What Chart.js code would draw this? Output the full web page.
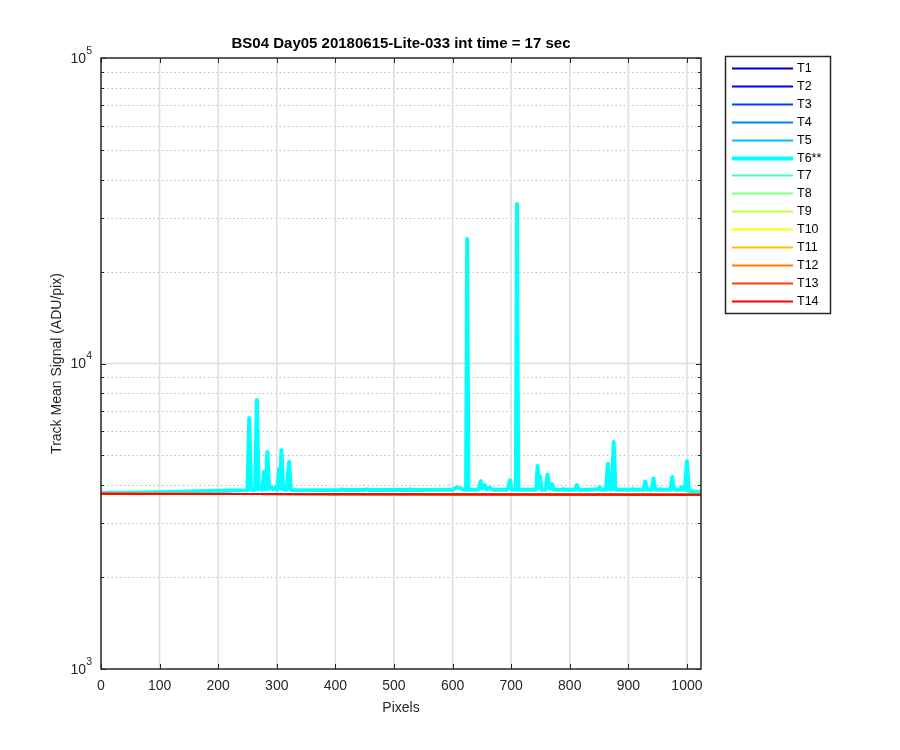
<!DOCTYPE html>
<html><head><meta charset="utf-8">
<script src="https://cdn.jsdelivr.net/npm/chart.js@4.4.0/dist/chart.umd.min.js"></script>
<style>html,body{margin:0;padding:0;background:#fff;}canvas{display:block;}</style>
</head><body>
<canvas id="c" width="900" height="750"></canvas>
<script>
// ---- data ----
const chartTitle = 'BS04 Day05 20180615-Lite-033 int time = 17 sec';
const xAxisLabel = 'Pixels';
const yAxisLabel = 'Track Mean Signal (ADU/pix)';
const trackLabels = ['T1','T2','T3','T4','T5','T6**','T7','T8','T9','T10','T11','T12','T13','T14'];
const xTickValues = [0,100,200,300,400,500,600,700,800,900,1000];
const xTickLabels = ['0','100','200','300','400','500','600','700','800','900','1000'];
const yMajorTickValues = [1000,10000,100000];
const yTickBases = ['10','10','10'];
const yTickExponents = ['3','4','5'];
const yMinorTickValues = [2000,3000,4000,5000,6000,7000,8000,9000,20000,30000,40000,50000,60000,70000,80000,90000];

// T6 (highlighted track) pixel positions and signal
const t6X = [1,50,100,150,200,246,250,253,256,260,263,266,269,272,275,278,281,284,287,291,294,298,301,304,306,308,311,317,321,324,330,
  408,411,414,451,454,457,524,527,530,600,604,608,612,616,620,623,625,627,640,645,648,651,655,658,664,668,692,695,698,701,
  708,710,712,740,743,745,747,749,752,759,762,765,767,770,773,786,789,792,809,812,815,840,843,846,849,851,854,862,865,868,
  872,875,878,905,908,911,926,929,932,940,943,946,952,955,958,972,975,978,988,991,994,997,1000,1003,1012,1024];
const t6Y = [3770,3775,3790,3810,3830,3845,3850,6630,3860,3850,3860,7590,3870,3950,3860,4420,3870,5130,3880,3940,3870,3940,3860,4520,3900,5200,3870,3860,4760,3855,3850,
  3855,3875,3855,3855,3875,3855,3855,3870,3855,3860,3900,3930,3910,3880,3860,3860,25560,3860,3860,3875,4120,3890,4000,3870,3920,3860,3860,3900,4150,3870,
  3860,33270,3860,3860,3870,4620,3920,4280,3860,3860,4320,3900,3880,4030,3860,3860,3880,3860,3860,4000,3860,3860,3880,3870,3880,3940,3860,3860,4700,3870,
  3870,5530,3860,3860,3880,3860,3860,4110,3860,3860,4200,3860,3860,3880,3860,3860,4250,3860,3860,3940,3860,3860,4790,3830,3810,3800];

// all other tracks sit on the common baseline
const otherX = [0,500,1024];
const otherY = [3745,3735,3720];

// ---- styles ----
const trackColors = ['rgb(0,0,191)','rgb(0,0,255)','rgb(0,64,255)','rgb(0,128,255)','rgb(0,191,255)','rgb(0,255,255)',
  'rgb(64,255,191)','rgb(128,255,128)','rgb(191,255,64)','rgb(255,255,0)','rgb(255,191,0)','rgb(255,128,0)','rgb(255,64,0)','rgb(255,0,0)'];
const HIGHLIGHT = 5;
const FONT = "'Liberation Sans', Arial, sans-serif";
const AXIS_COLOR = '#262626';

const datasets = trackLabels.map((lab, i) => {
  const xs = i === HIGHLIGHT ? t6X : otherX;
  const ys = i === HIGHLIGHT ? t6Y : otherY;
  return {
    label: lab,
    data: xs.map((x, k) => ({x: x, y: ys[k]})),
    borderColor: trackColors[i],
    backgroundColor: trackColors[i],
    borderWidth: i === HIGHLIGHT ? 4 : 2,
    pointRadius: 0,
    tension: 0,
    fill: false,
    borderJoinStyle: 'round',
    borderCapStyle: 'round',
    order: trackLabels.length - i
  };
});

const matlabAxes = {
  id: 'matlabAxes',
  beforeDatasetsDraw(chart) {
    const ctx = chart.ctx, a = chart.chartArea;
    const xs = chart.scales.x, ys = chart.scales.y;
    ctx.save();
    // minor dotted horizontal grid
    ctx.strokeStyle = '#bcbcbc';
    ctx.lineWidth = 1.2;
    ctx.setLineDash([1.5, 2.7]);
    yMinorTickValues.forEach(v => {
      const y = Math.round(ys.getPixelForValue(v)) + 0.5;
      ctx.beginPath(); ctx.moveTo(a.left + 2, y); ctx.lineTo(a.right, y); ctx.stroke();
    });
    ctx.setLineDash([]);
    // major grid
    ctx.strokeStyle = '#dedede';
    ctx.lineWidth = 1.5;
    xTickValues.forEach(v => {
      const x = xs.getPixelForValue(v);
      if (x <= a.left + 1 || x >= a.right - 1) return;
      ctx.beginPath(); ctx.moveTo(x, a.top); ctx.lineTo(x, a.bottom); ctx.stroke();
    });
    yMajorTickValues.forEach(v => {
      const y = ys.getPixelForValue(v);
      if (y <= a.top + 1 || y >= a.bottom - 1) return;
      ctx.beginPath(); ctx.moveTo(a.left, y); ctx.lineTo(a.right, y); ctx.stroke();
    });
    ctx.restore();
  },
  afterDatasetsDraw(chart) {
    const ctx = chart.ctx, a = chart.chartArea;
    const xs = chart.scales.x, ys = chart.scales.y;
    ctx.save();
    // ticks (inward, all sides)
    ctx.strokeStyle = AXIS_COLOR;
    ctx.lineWidth = 1;
    xTickValues.forEach(v => {
      const x = Math.round(xs.getPixelForValue(v)) + 0.5;
      ctx.beginPath();
      ctx.moveTo(x, a.bottom); ctx.lineTo(x, a.bottom - 5);
      ctx.moveTo(x, a.top); ctx.lineTo(x, a.top + 5);
      ctx.stroke();
    });
    yMajorTickValues.forEach(v => {
      const y = Math.round(ys.getPixelForValue(v)) + 0.5;
      ctx.beginPath();
      ctx.moveTo(a.left, y); ctx.lineTo(a.left + 5, y);
      ctx.moveTo(a.right, y); ctx.lineTo(a.right - 5, y);
      ctx.stroke();
    });
    yMinorTickValues.forEach(v => {
      const y = Math.round(ys.getPixelForValue(v)) + 0.5;
      ctx.beginPath();
      ctx.moveTo(a.left, y); ctx.lineTo(a.left + 3, y);
      ctx.moveTo(a.right, y); ctx.lineTo(a.right - 3, y);
      ctx.stroke();
    });
    // box
    ctx.lineWidth = 1.5;
    ctx.strokeRect(a.left, a.top, a.right - a.left, a.bottom - a.top);

    // x tick labels
    ctx.fillStyle = AXIS_COLOR;
    ctx.font = '14px ' + FONT;
    ctx.textAlign = 'center';
    ctx.textBaseline = 'middle';
    xTickValues.forEach((v, i) => {
      ctx.fillText(xTickLabels[i], xs.getPixelForValue(v), a.bottom + 17);
    });
    // y tick labels 10^n
    yMajorTickValues.forEach((v, i) => {
      const y = ys.getPixelForValue(v);
      ctx.font = '10.5px ' + FONT;
      ctx.textAlign = 'left';
      const ew = ctx.measureText(yTickExponents[i]).width;
      const right = a.left - 9;
      ctx.fillText(yTickExponents[i], right - ew, y - 7);
      ctx.font = '14px ' + FONT;
      ctx.textAlign = 'right';
      ctx.fillText(yTickBases[i], right - ew, y + 1);
    });
    // axis labels
    ctx.textAlign = 'center';
    ctx.font = '14px ' + FONT;
    ctx.fillText(xAxisLabel, (a.left + a.right) / 2, a.bottom + 39);
    ctx.save();
    ctx.translate(57, (a.top + a.bottom) / 2);
    ctx.rotate(-Math.PI / 2);
    ctx.fillText(yAxisLabel, 0, 0);
    ctx.restore();
    // title
    ctx.fillStyle = '#000';
    ctx.font = 'bold 15px ' + FONT;
    ctx.fillText(chartTitle, (a.left + a.right) / 2, a.top - 14);

    // legend
    const lx = 725.5, ly = 56.5, lw = 105, lh = 257;
    ctx.fillStyle = '#fff';
    ctx.fillRect(lx, ly, lw, lh);
    ctx.strokeStyle = AXIS_COLOR;
    ctx.lineWidth = 1.5;
    ctx.strokeRect(lx, ly, lw, lh);
    ctx.font = '12.5px ' + FONT;
    ctx.textAlign = 'left';
    ctx.textBaseline = 'middle';
    chart.data.datasets.forEach((ds, i) => {
      const y = Math.round(68 + i * 17.9) + 0.5;
      ctx.strokeStyle = ds.borderColor;
      ctx.lineWidth = i === HIGHLIGHT ? 4 : 2;
      ctx.beginPath(); ctx.moveTo(732, y); ctx.lineTo(793, y); ctx.stroke();
      ctx.fillStyle = '#000';
      ctx.fillText(ds.label, 797, y + 0.5);
    });
    ctx.restore();
  }
};

new Chart(document.getElementById('c'), {
  type: 'line',
  data: { datasets: datasets },
  options: {
    responsive: false,
    devicePixelRatio: 1,
    animation: false,
    parsing: true,
    layout: { padding: { left: 101, top: 58, right: 199, bottom: 81 } },
    plugins: { legend: { display: false }, title: { display: false }, tooltip: { enabled: false } },
    scales: {
      x: { type: 'linear', min: 0, max: 1024, display: false },
      y: { type: 'logarithmic', min: 1000, max: 100000, display: false }
    }
  },
  plugins: [matlabAxes]
});
</script>
</body></html>
